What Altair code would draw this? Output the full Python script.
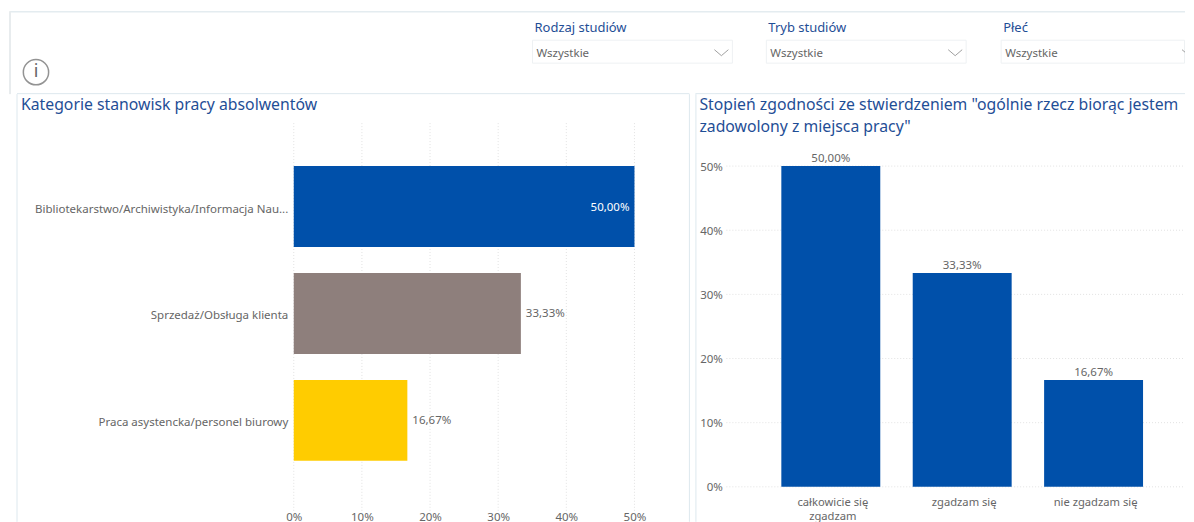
import altair as alt
import pandas as pd

FONT = "Noto Sans"
BLUE_T = "#1f4e96"
GREY_T = "#666666"
LINE = "#dde8ee"

job_cats = ["Bibliotekarstwo/Archiwistyka/Informacja Nau...", "Sprzedaż/Obsługa klienta", "Praca asystencka/personel biurowy"]
job_vals = [50.0, 33.33, 16.67]
job_cols = ["#0050AA", "#8E7F7C", "#FFCC00"]
agree_cats = ["całkowicie się zgadzam", "zgadzam się", "nie zgadzam się"]
agree_vals = [50.0, 33.33, 16.67]
ticks = [0, 10, 20, 30, 40, 50]
slicers = ["Rodzaj studiów", "Tryb studiów", "Płeć"]
slicer_value = "Wszystkie"
title_left = "Kategorie stanowisk pracy absolwentów"
title_right = ['Stopień zgodności ze stwierdzeniem "ogólnie rzecz biorąc jestem', 'zadowolony z miejsca pracy"']

FULL = 1178

def fmt(v):
    return f"{v:.2f}".replace(".", ",") + "%"

def txt(s, x, y, size=12, color=GREY_T, align="left"):
    return alt.Chart().mark_text(font=FONT, fontSize=size, color=color, align=align, baseline="middle").encode(
        x=alt.value(x), y=alt.value(y), text=alt.value(s))

def line(x, x2, y, y2, color=LINE, w=1):
    return alt.Chart().mark_rule(color=color, strokeWidth=w).encode(
        x=alt.value(x), x2=alt.value(x2), y=alt.value(y), y2=alt.value(y2))

# ---------- header ----------
hdr = [line(2, FULL, 3.5, 3.5, "#e4ecf0", 1.5), line(2, 2, 3, 86, "#e8ecee", 2), line(9, 682, 85.5, 85.5), line(688, FULL, 85.5, 85.5)]
for name, x0, x1 in zip(slicers, [525, 759, 994], [725, 959, FULL - 0.5]):
    hdr.append(alt.Chart().mark_rect(fill="white", stroke="#eef1f3").encode(
        x=alt.value(x0), x2=alt.value(x1), y=alt.value(32), y2=alt.value(55)))
    hdr.append(txt(name, x0 + 2, 19.5, 13, BLUE_T))
    hdr.append(txt(slicer_value, x0 + 4, 45.5, 11.5, GREY_T))
    if x1 < FULL - 1:
        cx = x0 + 189
        hdr.append(line(cx - 7, cx, 41.5, 47.5, "#888888", 0.8))
        hdr.append(line(cx, cx + 7, 47.5, 41.5, "#888888", 0.8))
hdr.append(line(FULL - 3, FULL, 41.5, 44, "#888888", 0.8))
hdr.append(alt.Chart().mark_point(shape="circle", size=640, filled=False, stroke="#666666", strokeWidth=1.5).encode(
    x=alt.value(28), y=alt.value(64)))
hdr.append(txt("i", 28, 64, 18, "#666666", "center"))
header = alt.layer(*hdr).properties(width=FULL, height=86)

# ---------- left panel ----------
W1, H = 682, 428
jobs = pd.DataFrame({"cat": job_cats, "val": job_vals, "col": job_cols, "lab": [fmt(v) for v in job_vals]})
xs = alt.Scale(domain=[0, 50], range=[286, 627])
ys = alt.Scale(domain=job_cats, range=[59, 380], paddingInner=0.243, paddingOuter=0.1215)
ax_x1 = alt.Axis(values=ticks, labelExpr="datum.value + '%'", title=None, grid=False, domain=False, labelFlush=False,
                 ticks=False, labelPadding=0, offset=-10, labelColor=GREY_T, labelFontSize=11.5, labelFont=FONT)
ax_y1 = alt.Axis(title=None, grid=False, domain=False, ticks=False, labelPadding=0, offset=-280, labelOffset=3,
                 labelLimit=300, labelColor=GREY_T, labelFontSize=11.5, labelFont=FONT)
grid1 = alt.Chart(pd.DataFrame({"t": ticks})).mark_rule(color="#e2e2e2", strokeDash=[1, 2]).encode(
    x=alt.X("t:Q", scale=xs, axis=ax_x1), y=alt.value(29), y2=alt.value(419))
bars1 = alt.Chart(jobs).mark_bar().encode(
    x=alt.X("val:Q", scale=xs, axis=ax_x1),
    y=alt.Y("cat:N", scale=ys, sort=None, axis=ax_y1),
    color=alt.Color("col:N", scale=None, legend=None))
inside = alt.Chart(jobs[jobs.val >= 50]).mark_text(align="right", dx=-5, dy=1, color="white", font=FONT, fontSize=11.5).encode(
    x=alt.X("val:Q", scale=xs, axis=ax_x1), y=alt.Y("cat:N", scale=ys, sort=None, axis=ax_y1), text="lab:N")
outside = alt.Chart(jobs[jobs.val < 50]).mark_text(align="left", dx=5, dy=1, color=GREY_T, font=FONT, fontSize=11.5).encode(
    x=alt.X("val:Q", scale=xs, axis=ax_x1), y=alt.Y("cat:N", scale=ys, sort=None, axis=ax_y1), text="lab:N")
left = alt.layer(
    grid1, bars1, inside, outside,
    line(9, 9, 0, H), line(W1, W1, 0, H),
    txt(title_left, 13, 11, 15.8, BLUE_T),
).properties(width=W1, height=H)

# ---------- right panel ----------
W2 = FULL - W1 - 6
agree = pd.DataFrame({"cat": agree_cats, "val": agree_vals, "lab": [fmt(v) for v in agree_vals]})
ys2 = alt.Scale(domain=[0, 50], range=[393, 72])
xs2 = alt.Scale(domain=agree_cats, range=[69.75, 464.25], paddingInner=0.247, paddingOuter=0.1235)
label_expr = "datum.label == 'całkowicie się zgadzam' ? ['całkowicie się', 'zgadzam'] : datum.label"
ax_x2 = alt.Axis(title=None, grid=False, domain=False, ticks=False, labelPadding=0, offset=-25, labelOffset=2,
                 labelAngle=0, labelExpr=label_expr, labelLineHeight=14, labelLimit=200,
                 labelColor=GREY_T, labelFontSize=11.2, labelFont=FONT)
ax_y2 = alt.Axis(values=ticks, labelExpr="datum.value + '%'", title=None, grid=False, domain=False, labelFlush=False,
                 ticks=False, labelPadding=0, offset=-27, labelOffset=1, labelColor=GREY_T, labelFontSize=11.5, labelFont=FONT)
grid2 = alt.Chart(pd.DataFrame({"t": ticks})).mark_rule(color="#e2e2e2", strokeDash=[1, 2]).encode(
    y=alt.Y("t:Q", scale=ys2, axis=ax_y2), x=alt.value(31), x2=alt.value(W2))
bars2 = alt.Chart(agree).mark_bar(color="#0050AA").encode(
    x=alt.X("cat:N", scale=xs2, sort=None, axis=ax_x2),
    y=alt.Y("val:Q", scale=ys2, axis=ax_y2))
lab2 = alt.Chart(agree).mark_text(baseline="bottom", dy=-2, color=GREY_T, font=FONT, fontSize=11.5).encode(
    x=alt.X("cat:N", scale=xs2, sort=None, axis=ax_x2), y=alt.Y("val:Q", scale=ys2, axis=ax_y2), text="lab:N")
right = alt.layer(
    grid2, bars2, lab2,
    line(0.5, 0.5, 0, H),
    txt(title_right[0], 4, 11, 15.8, BLUE_T),
    txt(title_right[1], 4, 33, 15.8, BLUE_T),
).properties(width=W2, height=H)

panels = alt.hconcat(left, right, spacing=6, bounds="flush")
chart = alt.vconcat(header, panels, spacing=0, bounds="flush").properties(padding=0).configure_view(stroke=None)
chart.save("out.html", embed_options={"renderer": "svg", "actions": False})
